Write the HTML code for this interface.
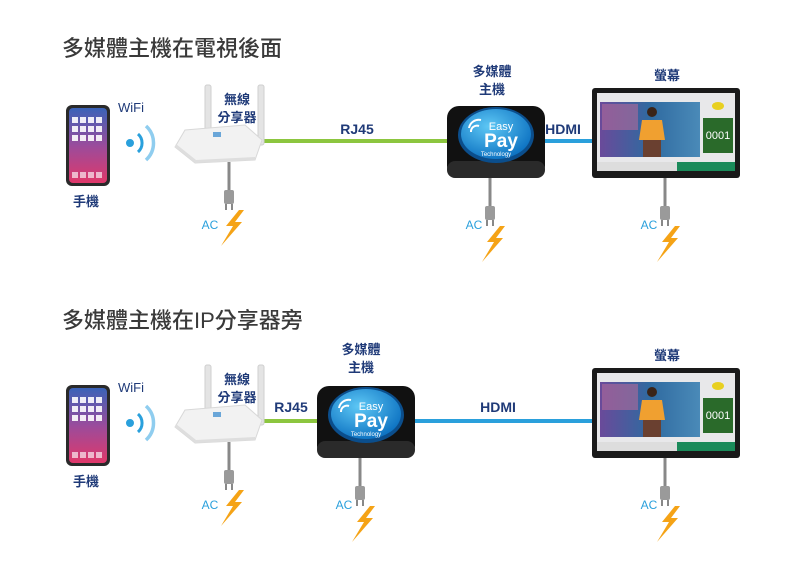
<!DOCTYPE html>
<html><head><meta charset="utf-8"><style>
html,body{margin:0;padding:0;background:#fff;}
svg{display:block;font-family:"Liberation Sans","Noto Sans CJK TC",sans-serif;}
.t{font-size:22px;fill:#3a3a3a;font-weight:500}
.l{font-size:13px;fill:#1f3a78;font-weight:bold}
.ac{font-size:12px;fill:#2aa0dc}
</style></head><body>
<svg width="800" height="566" viewBox="0 0 800 566">
<defs>
<linearGradient id="ph" x1="0" y1="0" x2="0" y2="1"><stop offset="0" stop-color="#3a63b8"/><stop offset="0.5" stop-color="#9a4c9c"/><stop offset="1" stop-color="#e0386a"/></linearGradient>
<radialGradient id="bl" cx="0.4" cy="0.35" r="0.7"><stop offset="0" stop-color="#5ec8f5"/><stop offset="1" stop-color="#0a6fc0"/></radialGradient>
<linearGradient id="scr" x1="0" y1="0" x2="1" y2="0"><stop offset="0" stop-color="#6a4a9a"/><stop offset="0.5" stop-color="#2f6aa0"/><stop offset="1" stop-color="#4a8ab8"/></linearGradient>
<g id="phone">
<rect x="0" y="0" width="44" height="81" rx="6" fill="#2a2a2a"/>
<rect x="3" y="3" width="38" height="75" rx="4" fill="url(#ph)"/>
<g fill="#fff" opacity="0.9">
<rect x="6" y="12" width="6" height="6"/><rect x="14" y="12" width="6" height="6"/><rect x="22" y="12" width="6" height="6"/><rect x="30" y="12" width="6" height="6"/>
<rect x="6" y="21" width="6" height="6"/><rect x="14" y="21" width="6" height="6"/><rect x="22" y="21" width="6" height="6"/><rect x="30" y="21" width="6" height="6"/>
<rect x="6" y="30" width="6" height="6"/><rect x="14" y="30" width="6" height="6"/><rect x="22" y="30" width="6" height="6"/><rect x="30" y="30" width="6" height="6"/>
<rect x="6" y="67" width="6" height="6" opacity="0.7"/><rect x="14" y="67" width="6" height="6" opacity="0.7"/><rect x="22" y="67" width="6" height="6" opacity="0.7"/><rect x="30" y="67" width="6" height="6" opacity="0.7"/>
</g></g>
<g id="wifi">
<circle cx="0" cy="0" r="4" fill="#2aa0dc"/>
<path d="M8,-9 A12,12 0 0 1 8,9" stroke="#2aa0dc" stroke-width="3" fill="none"/>
<path d="M16,-17 A23,23 0 0 1 16,17" stroke="#8fcdef" stroke-width="3.5" fill="none"/>
</g>
<g id="router">
<rect x="205" y="0" width="6" height="55" rx="2" fill="#e4e4e4" stroke="#cfcfcf"/>
<rect x="258" y="0" width="6" height="60" rx="2" fill="#e4e4e4" stroke="#cfcfcf"/>
<path d="M185,45 L245,40 L262,55 L255,75 L195,78 L175,62 Z" fill="#f2f2f2" stroke="#d8d8d8"/>
<path d="M175,62 L195,78 L255,75 L255,72 L196,75 L176,59Z" fill="#dedede"/>
<rect x="213" y="47" width="8" height="5" fill="#6aa6d8"/>
</g>
<g id="cord">
<rect x="-1.5" y="0" width="3" height="30" fill="#888"/>
<rect x="-5" y="28" width="10" height="14" rx="2" fill="#9a9a9a"/>
<rect x="-4" y="42" width="2" height="6" fill="#888"/><rect x="2" y="42" width="2" height="6" fill="#888"/>
<path d="M10,48 L-3,64 L4,64 L-8,84 L13,60 L6,60 L15,48Z" fill="#f5a316"/>
</g>
<g id="box">
<rect x="0" y="0" width="98" height="72" rx="12" fill="#111"/>
<rect x="0" y="55" width="98" height="17" rx="8" fill="#2a2a2a"/>
<ellipse cx="49" cy="29" rx="38" ry="28" fill="#0b4e8c"/>
<ellipse cx="49" cy="28" rx="35" ry="25" fill="url(#bl)"/>
<text x="54" y="24" font-size="11" fill="#fff" text-anchor="middle">Easy</text>
<text x="54" y="41" font-size="19" fill="#fff" text-anchor="middle" font-weight="bold">Pay</text>
<text x="49" y="50" font-size="6" fill="#fff" text-anchor="middle">Technology</text>
<path d="M22,22 A10,10 0 0 1 34,14 M24,26 A6,6 0 0 1 32,20" stroke="#fff" stroke-width="2" fill="none"/>
</g>
<g id="mon">
<rect x="0" y="0" width="148" height="90" rx="3" fill="#1a1a1a"/>
<rect x="5" y="5" width="138" height="78" fill="#e8e8ea"/>
<rect x="8" y="14" width="100" height="55" fill="url(#scr)"/>
<rect x="10" y="16" width="36" height="26" fill="#b06a9a" opacity="0.6"/>
<circle cx="60" cy="24" r="5" fill="#3a2418"/>
<path d="M50,32 L70,32 L73,52 L47,52Z" fill="#f0a030"/>
<rect x="51" y="52" width="18" height="17" fill="#6a4030"/>
<rect x="111" y="30" width="30" height="35" fill="#2a6a2a"/>
<text x="126" y="51" font-size="11" fill="#fff" text-anchor="middle">0001</text>
<ellipse cx="126" cy="18" rx="6" ry="4" fill="#e8d020"/>
<rect x="5" y="74" width="138" height="9" fill="#1a8a5a"/>
<rect x="5" y="74" width="80" height="9" fill="#ddd"/>
</g>
</defs>

<text x="62" y="56" class="t">多媒體主機在電視後面</text>
<line x1="262" y1="141" x2="448" y2="141" stroke="#8cc63f" stroke-width="4"/>
<line x1="545" y1="141" x2="592" y2="141" stroke="#2aa0dc" stroke-width="4"/>
<use href="#phone" x="66" y="105"/>
<text x="86" y="206" class="l" text-anchor="middle">手機</text>
<text x="131" y="112" class="l" text-anchor="middle" style="font-weight:normal">WiFi</text>
<use href="#wifi" x="130" y="143"/>
<use href="#router" x="0" y="85"/>
<text x="237" y="104" class="l" text-anchor="middle">無線</text>
<text x="237" y="122" class="l" text-anchor="middle">分享器</text>
<text x="357" y="134" class="l" text-anchor="middle" style="font-size:14px">RJ45</text>
<use href="#box" x="447" y="106"/>
<text x="492" y="76" class="l" text-anchor="middle">多媒體</text>
<text x="492" y="94" class="l" text-anchor="middle">主機</text>
<text x="563" y="134" class="l" text-anchor="middle" style="font-size:14px">HDMI</text>
<use href="#mon" x="592" y="88"/>
<text x="667" y="80" class="l" text-anchor="middle">螢幕</text>
<use href="#cord" x="229" y="162"/>
<text x="210" y="229" class="ac" text-anchor="middle">AC</text>
<use href="#cord" x="490" y="178"/>
<text x="474" y="229" class="ac" text-anchor="middle">AC</text>
<use href="#cord" x="665" y="178"/>
<text x="649" y="229" class="ac" text-anchor="middle">AC</text>

<text x="62" y="328" class="t">多媒體主機在IP分享器旁</text>
<line x1="262" y1="421" x2="320" y2="421" stroke="#8cc63f" stroke-width="4"/>
<line x1="414" y1="421" x2="592" y2="421" stroke="#2aa0dc" stroke-width="4"/>
<use href="#phone" x="66" y="385"/>
<text x="86" y="486" class="l" text-anchor="middle">手機</text>
<text x="131" y="392" class="l" text-anchor="middle" style="font-weight:normal">WiFi</text>
<use href="#wifi" x="130" y="423"/>
<use href="#router" x="0" y="365"/>
<text x="237" y="384" class="l" text-anchor="middle">無線</text>
<text x="237" y="402" class="l" text-anchor="middle">分享器</text>
<text x="291" y="412" class="l" text-anchor="middle" style="font-size:14px">RJ45</text>
<use href="#box" x="317" y="386"/>
<text x="361" y="354" class="l" text-anchor="middle">多媒體</text>
<text x="361" y="372" class="l" text-anchor="middle">主機</text>
<text x="498" y="412" class="l" text-anchor="middle" style="font-size:14px">HDMI</text>
<use href="#mon" x="592" y="368"/>
<text x="667" y="360" class="l" text-anchor="middle">螢幕</text>
<use href="#cord" x="229" y="442"/>
<text x="210" y="509" class="ac" text-anchor="middle">AC</text>
<use href="#cord" x="360" y="458"/>
<text x="344" y="509" class="ac" text-anchor="middle">AC</text>
<use href="#cord" x="665" y="458"/>
<text x="649" y="509" class="ac" text-anchor="middle">AC</text>
</svg>
</body></html>
